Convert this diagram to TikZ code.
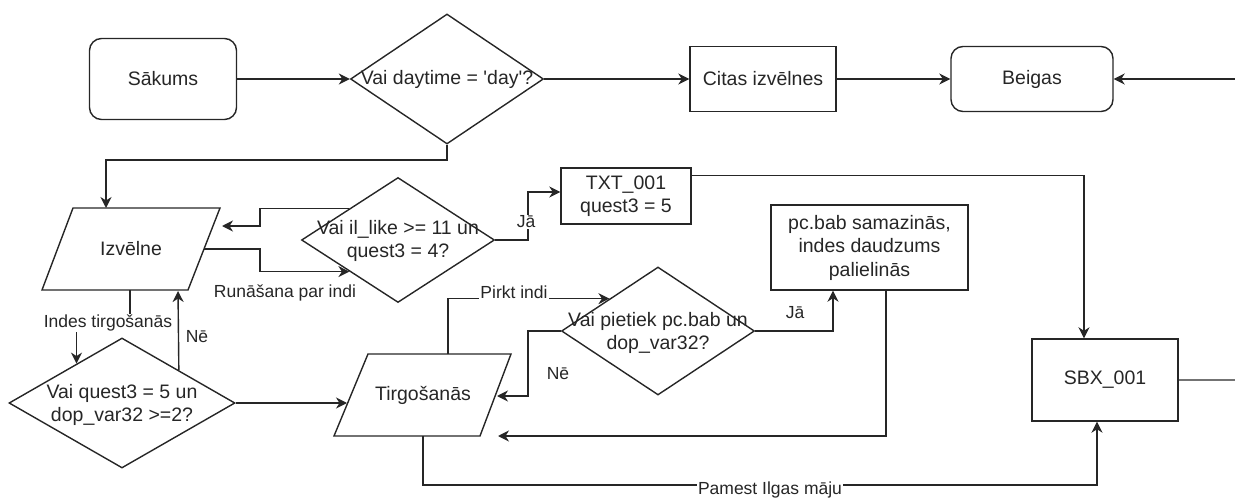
\documentclass[tikz,border=0pt]{standalone}
\usepackage{fontspec}
\setmainfont{Liberation Sans}[Ligatures=TeXOff]
\usetikzlibrary{arrows.meta,shapes.geometric,calc}

\begin{document}
\begin{tikzpicture}[x=1pt,y=-1pt,
  every node/.style={font=\fontsize{19.5}{23.5}\selectfont, text=black!85},
  outline/.style={draw=black!85, line width=1.4pt},
  box/.style={outline, rectangle, inner sep=0pt, align=center},
  term/.style={box, rounded corners=12pt},
  decision/.style={outline, diamond, inner sep=0pt},
  conn/.style={line width=1.4pt, draw=black!85},
  arr/.style={conn, -{Stealth[length=11pt,width=11pt,inset=3.5pt]}},
  lbl/.style={font=\fontsize{17.5}{21}\selectfont, inner sep=1pt},
  lblw/.style={lbl, fill=white},
  dtext/.style={align=center, inner sep=0pt}]
\useasboundingbox (0,0) rectangle (1235,500);

% top row
\node[term, minimum width=147pt, minimum height=81pt] (start) at (163,79) {Sākums};
\node[decision, minimum width=193pt, minimum height=130pt] (d1) at (447,79) {};
\node[dtext] (d1t) at (d1) {Vai daytime = 'day'?};
\node[box, minimum width=146pt, minimum height=65pt] (other) at (763,79) {Citas izvēlnes};
\node[term, minimum width=162pt, minimum height=65pt] (end) at (1032,79) {Beigas};
\coordinate (endin) at (1235,79);

% menu (parallelogram)
\draw[outline] (73,208) -- (220,208) -- (188,290) -- (42,290) -- cycle;
\node (izv) at (131,249) {Izvēlne};
\coordinate (izvN) at (106,208);
\coordinate (izvE) at (204,249);
\coordinate (izvIn) at (222,226);
\coordinate (izvS) at (130,290);
\coordinate (izvSin) at (178,291);

% second decision and its branch
\node[decision, minimum width=193pt, minimum height=125pt] (d2) at (398,240) {};
\node[dtext] (d2t) at (398,241) {Vai il\_like >= 11 un\\quest3 = 4?};
\node[box, minimum width=130pt, minimum height=56pt] (txt) at (626,196) {TXT\_001\\quest3 = 5};
\node[box, minimum width=197pt, minimum height=85pt] (pcb) at (869.5,247.5) {pc.bab samazinās,\\indes daudzums\\palielinās};

% trading
\node[decision, minimum width=193pt, minimum height=128pt] (d3) at (658,331) {};
\node[dtext] (d3t) at (658,333) {Vai pietiek pc.bab un\\dop\_var32?};
\node[decision, minimum width=226pt, minimum height=130pt] (d4) at (122,403) {};
\node[dtext] (d4t) at (122,405) {Vai quest3 = 5 un\\dop\_var32 >=2?};
\draw[outline] (368,354) -- (511,354) -- (480,436) -- (334,436) -- cycle;
\node (tirg) at (423,395) {Tirgošanās};
\coordinate (tirgN) at (448,354);
\coordinate (tirgS) at (423,436);
\coordinate (tirgW) at (347,403);
\coordinate (tirgE) at (497,396);
\coordinate (tirgSE) at (498,436);

\node[box, minimum width=146pt, minimum height=82pt] (sbx) at (1105,380) {SBX\_001};
\coordinate (sbxout) at (1235,380);

% connectors
\draw[arr] (start.east) -- (d1.west);
\draw[arr] (d1.east) -- (other.west);
\draw[arr] (other.east) -- (end.west);
\draw[arr] (endin) -- (end.east);
\draw[arr] (d1.south) -- (447,160) -| (izvN);

\draw[arr] ($(d2.west)!0.5!(d2.north)$) -| (260,226) -- (izvIn);
\draw[arr] (izvE) -- (260,249) |- ($(d2.west)!0.5!(d2.south)$);
\node[lbl] (lrun) at (285,293) {Runāšana par indi};

\draw[arr] (d2.east) -- (528,240) |- ($(txt.west)+(0,-4)$);
\node[lblw] (lja1) at (526,222) {Jā};

\draw[arr] ($(txt.north east)+(0,8)$) -| ($(sbx.north)+(-21,0)$);

\draw[arr] (d3.east) -| ($(pcb.south)+(-36.5,0)$);
\node[lbl] (lja2) at (795,313) {Jā};

\draw[arr] (d3.west) -- (528,331) |- (tirgE);
\node[lbl] (lne1) at (558,374) {Nē};

\draw[arr] (tirgN) |- ($(d3.west)!0.5!(d3.north)$);
\node[lblw] (lpirkt) at (514,292) {Pirkt indi};

\draw[arr] ($(pcb.south)+(16.5,0)$) |- (tirgSE);

\draw[arr] (tirgS) -- (423,485) -| ($(sbx.south)+(-8,0)$);
\node[lblw] (lpamest) at (770,490) {Pamest Ilgas māju};

\draw[arr] (izvS) -- (130,323) -| ($(d4.west)!0.6!(d4.north)$);
\node[lblw] (lindes) at (108,323) {Indes tirgošanās};

\draw[arr] ($(d4.north)!0.5!(d4.east)$) -- (izvSin);
\node[lbl] (lne2) at (197,337) {Nē};

\draw[arr] (d4.east) -- (tirgW);

\draw[conn, draw=black!55] (sbx.east) -- (sbxout);
\end{tikzpicture}
\end{document}
